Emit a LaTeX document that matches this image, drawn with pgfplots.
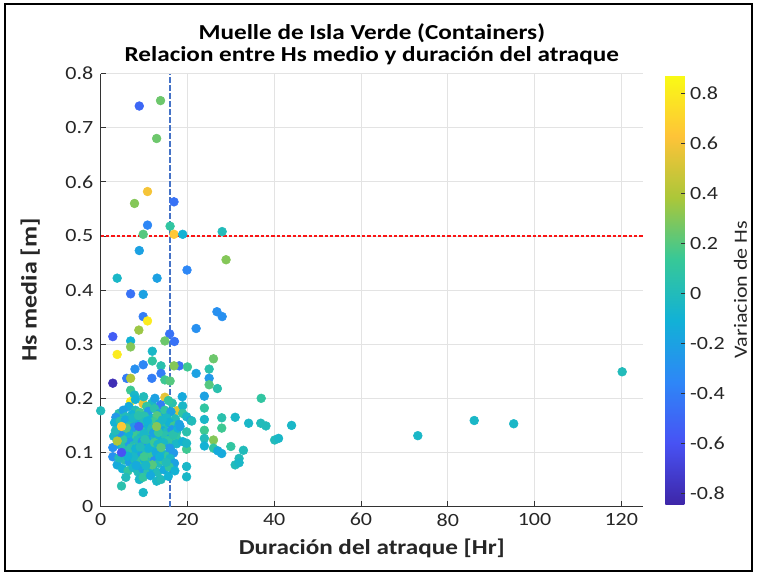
\documentclass[border=0pt]{standalone}
\usepackage{fontspec}
\setmainfont{Carlito}[FakeStretch=1.18]
\usepackage{pgfplots}
\pgfplotsset{compat=1.18}
\usepackage{pgfplotstable}

\pgfplotsset{colormap={parula}{
rgb=(0.2422,0.1504,0.6603)
rgb=(0.2810,0.3228,0.9579)
rgb=(0.1786,0.5289,0.9682)
rgb=(0.0689,0.6948,0.8394)
rgb=(0.2161,0.7843,0.5923)
rgb=(0.6720,0.7793,0.2227)
rgb=(0.9970,0.7659,0.2199)
rgb=(0.9769,0.9839,0.0805)}}

\definecolor{vline}{rgb}{0.27,0.45,0.78}
\definecolor{hline}{RGB}{250,20,20}

\pgfplotstableread{
x y c
8.9 0.740 -0.50
13.8 0.750 0.25
12.9 0.680 0.25
10.8 0.582 0.60
7.8 0.560 0.30
16.9 0.563 -0.45
10.8 0.520 -0.35
16.0 0.518 0.10
9.8 0.503 0.20
16.9 0.503 0.65
18.9 0.503 -0.10
28.0 0.508 0.00
8.9 0.473 -0.20
28.9 0.456 0.30
3.8 0.422 -0.05
13.0 0.422 -0.20
19.9 0.437 -0.35
6.9 0.393 -0.45
9.8 0.392 -0.20
26.8 0.360 -0.30
28.0 0.351 -0.30
9.8 0.351 -0.40
10.8 0.343 0.80
22.0 0.329 -0.30
8.8 0.326 0.35
15.9 0.319 -0.45
17.0 0.305 -0.45
2.8 0.314 -0.55
6.9 0.306 -0.10
14.8 0.306 0.25
6.9 0.295 0.30
3.8 0.281 0.80
11.9 0.287 -0.05
11.9 0.269 0.10
13.9 0.260 0.05
9.8 0.262 -0.35
7.9 0.254 -0.30
18.1 0.260 -0.45
16.9 0.260 0.30
20.0 0.258 0.15
26.0 0.273 0.25
25.0 0.254 0.05
22.0 0.246 -0.20
25.0 0.237 -0.25
25.0 0.225 0.20
26.9 0.218 0.05
13.9 0.246 -0.40
11.8 0.237 -0.40
6.0 0.237 -0.40
6.9 0.237 0.40
14.8 0.234 0.15
16.0 0.232 0.20
2.8 0.228 -0.80
6.9 0.215 0.15
7.8 0.206 -0.05
37.0 0.200 0.10
0.0 0.177 0.00
6.9 0.194 0.80
9.8 0.190 0.55
14.8 0.202 0.55
9.9 0.203 0.00
11.8 0.191 -0.05
13.8 0.188 -0.40
16.5 0.191 0.05
18.8 0.203 -0.15
12.5 0.200 -0.20
8.0 0.198 -0.10
15.6 0.196 0.10
10.6 0.185 0.10
4.2 0.172 0.05
6.5 0.185 -0.15
8.0 0.178 0.00
17.6 0.177 0.50
18.9 0.186 -0.05
5.2 0.178 -0.20
7.2 0.170 -0.10
9.0 0.174 0.15
11.0 0.176 -0.25
12.4 0.181 0.05
13.6 0.172 -0.15
14.8 0.178 0.10
16.2 0.175 -0.20
3.5 0.165 -0.25
5.8 0.166 0.00
8.4 0.164 -0.30
10.1 0.167 0.05
11.9 0.163 -0.10
13.0 0.168 0.20
15.2 0.164 -0.05
17.2 0.162 0.00
18.9 0.172 0.10
3.2 0.155 -0.10
4.5 0.158 0.05
6.1 0.154 -0.20
7.3 0.158 0.10
8.8 0.152 -0.15
9.9 0.156 0.00
11.1 0.150 -0.20
12.2 0.157 0.15
13.5 0.153 -0.05
14.6 0.150 0.05
15.8 0.155 -0.10
16.9 0.149 0.15
18.1 0.152 -0.20
3.9 0.142 -0.15
5.5 0.140 0.10
6.7 0.144 -0.05
7.9 0.138 0.00
10.4 0.142 -0.10
11.6 0.139 0.05
14.0 0.141 -0.15
15.2 0.138 0.00
16.4 0.142 -0.25
17.5 0.137 0.05
3.0 0.130 -0.05
4.9 0.132 -0.20
6.0 0.128 0.00
7.0 0.126 -0.15
8.2 0.131 0.15
9.3 0.128 -0.05
10.5 0.130 0.10
11.4 0.124 -0.20
12.6 0.129 0.00
13.7 0.125 -0.10
14.9 0.131 0.05
16.1 0.126 -0.15
17.4 0.128 0.10
4.1 0.115 -0.10
5.3 0.112 0.05
6.5 0.118 -0.25
7.6 0.113 0.00
8.7 0.117 0.20
9.8 0.112 -0.15
10.9 0.116 0.05
12.0 0.111 -0.05
15.0 0.115 -0.20
16.3 0.112 0.00
17.5 0.116 -0.05
2.8 0.109 -0.30
2.8 0.092 -0.30
6.0 0.102 0.00
7.1 0.097 -0.10
8.3 0.103 0.10
9.4 0.096 -0.20
10.6 0.101 0.00
11.7 0.095 0.15
12.8 0.100 -0.15
14.5 0.097 -0.05
15.6 0.094 0.10
16.8 0.099 -0.25
3.8 0.077 -0.15
5.5 0.086 0.05
6.6 0.082 -0.20
7.8 0.088 0.00
9.0 0.083 0.10
10.1 0.087 -0.10
11.3 0.081 0.05
12.4 0.085 -0.30
13.4 0.080 0.00
14.3 0.086 0.15
16.0 0.089 -0.05
17.0 0.080 -0.20
5.0 0.070 -0.10
6.3 0.066 0.10
7.5 0.072 -0.05
8.6 0.064 0.00
9.7 0.070 -0.20
10.9 0.065 0.05
12.0 0.071 -0.10
13.1 0.063 0.00
14.6 0.068 -0.15
15.8 0.073 0.10
17.1 0.066 -0.10
5.8 0.054 0.00
8.9 0.050 -0.05
9.8 0.054 0.10
11.5 0.057 -0.15
12.9 0.047 -0.05
13.9 0.050 0.00
15.6 0.056 -0.10
4.8 0.038 0.05
9.8 0.026 -0.05
5.7 0.160 -0.15
6.8 0.150 0.00
7.7 0.147 -0.25
9.2 0.141 0.10
10.0 0.135 -0.05
10.8 0.158 -0.10
11.8 0.145 0.00
12.2 0.136 -0.20
13.3 0.137 0.10
6.4 0.135 -0.10
8.5 0.123 0.00
9.6 0.120 -0.25
10.2 0.124 0.05
11.1 0.108 -0.10
12.4 0.118 0.15
13.2 0.115 -0.05
6.9 0.108 0.05
8.1 0.107 -0.10
9.1 0.110 0.00
5.1 0.124 0.10
4.4 0.137 -0.30
5.9 0.145 0.20
7.4 0.164 -0.05
8.7 0.168 0.05
14.2 0.160 -0.05
15.5 0.122 0.10
14.5 0.118 -0.05
13.6 0.092 -0.10
10.0 0.092 0.15
7.6 0.092 -0.05
11.9 0.077 0.20
10.4 0.076 -0.05
8.2 0.076 -0.15
6.2 0.093 -0.10
4.2 0.090 0.00
15.1 0.082 0.00
15.9 0.108 -0.25
16.7 0.133 0.05
17.8 0.145 -0.10
3.4 0.140 0.00
4.8 0.148 0.65
3.8 0.121 0.40
4.8 0.100 -0.60
8.8 0.148 -0.50
12.9 0.148 0.30
13.9 0.109 0.20
23.9 0.204 -0.20
23.9 0.182 0.10
19.8 0.166 -0.05
20.8 0.159 -0.20
21.0 0.158 0.00
23.9 0.161 -0.05
27.9 0.164 0.05
31.0 0.165 -0.05
34.1 0.154 -0.05
36.9 0.154 0.00
38.1 0.149 0.00
44.0 0.150 -0.05
18.3 0.148 -0.20
19.8 0.138 0.05
23.9 0.141 0.15
27.9 0.145 0.15
23.9 0.126 0.00
26.0 0.123 0.30
18.9 0.120 -0.10
23.9 0.112 -0.10
26.0 0.108 0.10
27.9 0.098 -0.15
27.0 0.103 -0.15
30.0 0.111 0.10
32.9 0.104 0.00
31.9 0.089 0.00
31.0 0.077 0.00
31.9 0.081 -0.05
40.1 0.123 0.00
41.0 0.126 -0.05
19.8 0.106 0.15
19.8 0.117 -0.05
19.8 0.074 -0.05
19.8 0.055 -0.05
73.1 0.131 -0.05
86.1 0.159 -0.05
95.2 0.153 -0.05
120.2 0.249 0.00
}\datatable

\begin{document}
\begin{tikzpicture}
\useasboundingbox (-75.5pt,-51.4pt) rectangle (492.2pt,379.9pt);
\begin{axis}[
  at={(0,0)}, anchor=south west,
  scale only axis, width=406.7pt, height=324.75pt,
  xmin=0, xmax=125, ymin=0, ymax=0.8,
  xtick={0,20,40,60,80,100,120},
  ytick={0,0.1,0.2,0.3,0.4,0.5,0.6,0.7,0.8},
  axis x line*=bottom, axis y line*=left,
  x axis line style={-}, y axis line style={-},
  axis line style={color=black!80, line width=0.6pt},
  tick style={color=black!80, line width=0.6pt},
  tick align=inside, major tick length=4pt,
  grid=major, grid style={color=black!11, line width=0.5pt},
  tick label style={font=\fontsize{14}{16}\selectfont, color=black!85},
  xticklabel style={yshift=-1.5pt},
  /pgf/number format/assume math mode=true,
  yticklabel style={xshift=-2pt, /pgf/number format/.cd, fixed, precision=1},
  every axis title shift=0pt,
  title={Muelle de Isla Verde (Containers)\\Relacion entre Hs medio y duración del atraque},
  title style={font=\bfseries\fontsize{16}{16.5}\selectfont, align=center,
    at={(axis description cs:0.5,1.068)}, anchor=center},
  xlabel={Duración del atraque [Hr]},
  xlabel style={font=\bfseries\fontsize{16}{19}\selectfont, color=black!85,
    at={(axis description cs:0.5,-0.096)}, anchor=center},
  ylabel={Hs media [m]},
  ylabel style={font=\bfseries\fontsize{16.5}{19}\selectfont, color=black!85,
    at={(axis description cs:-0.13,0.5)}, anchor=center},
  colormap name=parula,
  point meta min=-0.843, point meta max=0.873,
  colorbar,
  colorbar style={
    width=15pt, height=321.75pt,
    at={(parent axis.north east)}, anchor=north west, xshift=8.25pt, yshift=-1.1pt,
    ytick={-0.8,-0.6,-0.4,-0.2,0,0.2,0.4,0.6,0.8},
    ytick pos=right, tick align=inside, major tick length=3pt,
    tick style={color=black!80, line width=0.6pt},
    axis line style={draw=none},
    yticklabel style={font=\fontsize{14}{16}\selectfont, color=black!85,
      /pgf/number format/.cd, fixed, precision=1, assume math mode=true},
    ylabel={Variacion de Hs},
    ylabel style={font=\fontsize{14}{16}\selectfont, color=black!85,
      at={(axis description cs:3.75,0.5)}, anchor=center, rotate=0},
  },
]
\addplot[scatter, only marks, mark=*, mark size=3.3pt, point meta=explicit,
  scatter/use mapped color={draw=mapped color, fill=mapped color}]
  table[x=x, y=y, meta=c]{\datatable};
\addplot[draw=vline, line width=1.4pt, dash pattern=on 4pt off 2pt, forget plot]
  coordinates {(16,0) (16,0.8)};
\addplot[draw=hline, line width=1pt, dash pattern=on 2.5pt off 1.5pt, mark=none, forget plot]
  coordinates {(0,0.5) (125,0.5)};
\end{axis}
\draw[line width=1.5pt] (-71.8pt,-48.4pt) rectangle (488.5pt,376.9pt);
\end{tikzpicture}
\end{document}
